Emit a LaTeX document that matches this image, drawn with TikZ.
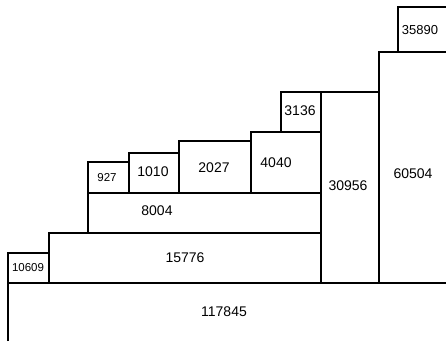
\documentclass[tikz,border=0pt]{standalone}
\usepackage{fontspec}
\setmainfont{Liberation Sans}
\begin{document}
\begin{tikzpicture}[x=1pt,y=-1pt,
  box/.style={draw=black,line width=1.1pt},
  lbl/.style={inner sep=0pt,font=\fontsize{14}{16}\selectfont},
  slbl/.style={inner sep=0pt,font=\fontsize{11.5}{13}\selectfont}]
\useasboundingbox (0,0) rectangle (446,341);
% big bottom box (open at right and bottom)
\draw[box] (8,341) -- (8,283) -- (446,283);
% boxes
\draw[box] (8,283) rectangle (49,253);
\draw[box] (49,283) rectangle (321,233);
\draw[box] (88,233) rectangle (321,193);
\draw[box] (88,193) rectangle (129,162);
\draw[box] (129,193) rectangle (179,153);
\draw[box] (179,193) rectangle (251,141);
\draw[box] (251,193) rectangle (321,132);
\draw[box] (281,132) rectangle (321,92);
\draw[box] (321,283) rectangle (379,92);
\draw[box] (379,283) -- (379,52) -- (446,52);
\draw[box] (398,52) -- (398,7) -- (446,7);
% labels
\node[lbl] (n117845) at (224,312) {117845};
\node[slbl] (n10609) at (28,268) {10609};
\node[lbl] (n15776) at (185,258) {15776};
\node[lbl] (n8004) at (157,211) {8004};
\node[slbl] (n927) at (107,178) {927};
\node[lbl] (n1010) at (153,172) {1010};
\node[lbl] (n2027) at (214,168) {2027};
\node[lbl] (n4040) at (276,163) {4040};
\node[lbl] (n3136) at (300,111) {3136};
\node[lbl] (n30956) at (348,186) {30956};
\node[lbl] (n60504) at (413,174) {60504};
\node[lbl,font=\fontsize{13}{15}\selectfont] (n35890) at (420,30) {35890};
\end{tikzpicture}
\end{document}
